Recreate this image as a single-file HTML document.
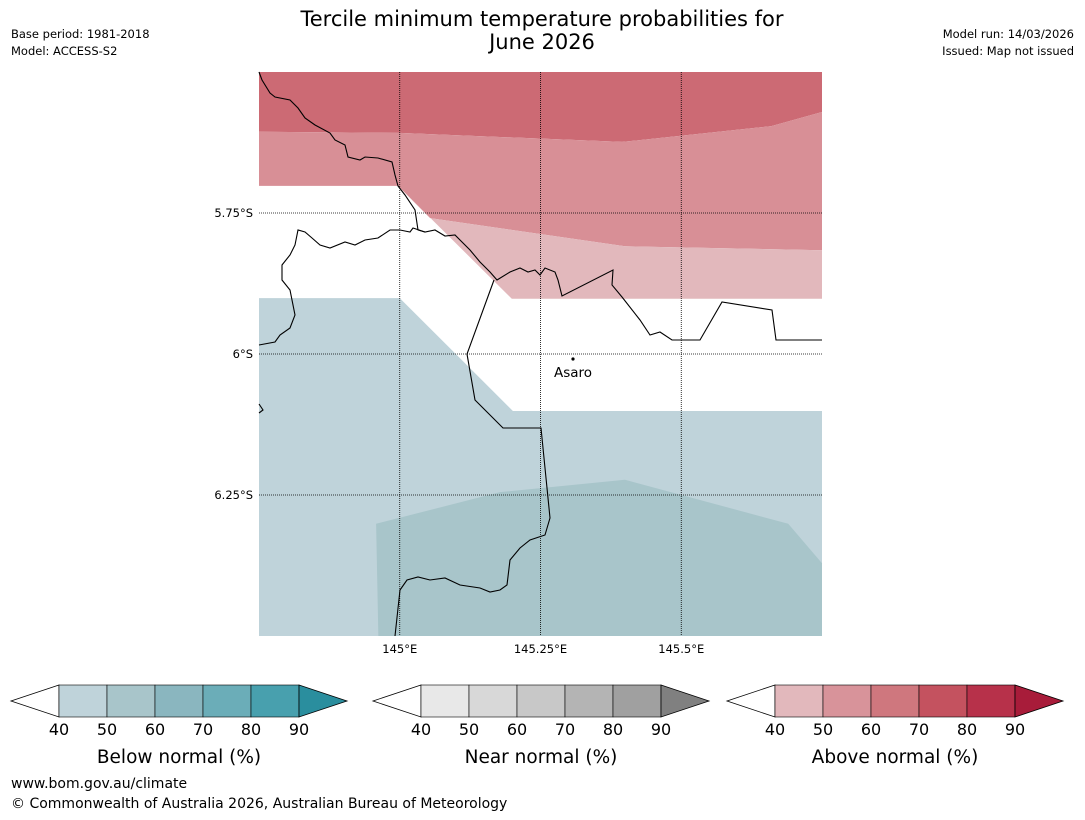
<!DOCTYPE html>
<html><head><meta charset="utf-8"><style>
body{margin:0;background:#fff;font-family:"DejaVu Sans",sans-serif;}
</style></head><body>
<svg id="s" width="1085" height="816" xmlns="http://www.w3.org/2000/svg" font-family="DejaVu Sans, sans-serif">
<rect width="1085" height="816" fill="#fff"/>
<text x="542" y="26" font-size="21" text-anchor="middle">Tercile minimum temperature probabilities for</text>
<text x="542" y="49" font-size="21" text-anchor="middle">June 2026</text>
<text x="11" y="38" font-size="11.5">Base period: 1981-2018</text>
<text x="11" y="55" font-size="11.5">Model: ACCESS-S2</text>
<text x="1074" y="38" font-size="11.5" text-anchor="end">Model run: 14/03/2026</text>
<text x="1074" y="55" font-size="11.5" text-anchor="end">Issued: Map not issued</text>
<g id="map"></g>
<g id="bars"></g>
<text x="11" y="788" font-size="14">www.bom.gov.au/climate</text>
<text x="11" y="808" font-size="14">© Commonwealth of Australia 2026, Australian Bureau of Meteorology</text>
</svg>
<script>
const lonTicks=[145,145.25,145.5];
const latTicks=[5.75,6,6.25];
const lonTickLabels=["145°E","145.25°E","145.5°E"];
const latTickLabels=["5.75°S","6°S","6.25°S"];
const darkRed=[[144.75,5.5],[145.75,5.5],[145.75,5.571],[145.66,5.596],[145.395,5.624],[145.0,5.608],[144.75,5.606]];
const medRed=[[144.75,5.606],[145.0,5.608],[145.395,5.624],[145.66,5.596],[145.75,5.571],[145.75,5.816],[145.4,5.809],[145.054,5.759],[144.997,5.702],[144.75,5.702]];
const lightRed=[[144.997,5.702],[145.054,5.759],[145.4,5.809],[145.75,5.816],[145.75,5.902],[145.199,5.902]];
const lightBlue=[[144.75,5.901],[145.0,5.901],[145.201,6.101],[145.75,6.101],[145.75,6.5],[144.75,6.5]];
const darkBlue=[[144.958,6.301],[145.178,6.245],[145.4,6.223],[145.69,6.301],[145.75,6.371],[145.75,6.5],[144.962,6.5]];
const coast=[[259,72],[262,80],[270,93],[275,97],[290,100],[298,108],[305,118],[315,125],[330,133],[335,140],[345,145],[348,157],[360,160],[365,157],[378,158],[392,162],[395,175],[398,186],[405,195],[415,210],[418,230],[425,232],[435,230],[445,236],[455,235],[460,240],[470,250],[480,262],[490,272],[497,280],[510,272],[520,268],[528,272],[535,270],[540,275],[545,268],[555,272],[558,280],[562,296],[613,270],[612,285],[622,297],[640,320],[650,335],[660,332],[672,340],[700,340],[722,302],[772,310],[776,340],[822,340]];
const coast2=[[259,345],[275,342],[280,335],[290,328],[295,315],[292,300],[290,290],[282,280],[282,265],[290,255],[295,245],[298,230],[305,232],[312,238],[320,245],[330,248],[345,242],[355,245],[365,240],[378,238],[390,230],[400,230],[410,232],[413,228],[425,232]];
const border=[[494,280],[467,354],[475,400],[503,428],[541,428],[550,518],[545,535],[530,540],[520,548],[510,560],[507,585],[500,590],[490,592],[480,588],[460,585],[445,578],[430,580],[418,577],[407,580],[400,590],[395,636]];
const coast3=[[259,404],[263,410],[259,413]];
const X=l=>259+(l-144.75)*563,Y=l=>72+(l-5.5)*564;
const NS='http://www.w3.org/2000/svg';
const map=document.getElementById('map');
function mk(t,a,p){const e=document.createElementNS(NS,t);for(const k in a)e.setAttribute(k,a[k]);(p||map).appendChild(e);return e;}
function poly(pts,fill,name){const e=mk('polygon',{points:pts.map(p=>X(p[0])+','+Y(p[1])).join(' '),fill:fill});

}
poly(darkRed,'#cc6a74','above-70-region');poly(medRed,'#d88f96','above-60-region');poly(lightRed,'#e2b8bc','above-50-region');
poly(lightBlue,'#bfd3da','below-40-region');poly(darkBlue,'#a8c5ca','below-50-region');
function line(pts,name){const e=mk('polyline',{points:pts.map(p=>p[0]+','+p[1]).join(' '),fill:'none',stroke:'#000','stroke-width':1.1});

}
line(coast,'coastline');line(coast2,'coastline-west');line(border,'province-border');line(coast3,'coastline-fragment');
lonTicks.forEach((v,i)=>{const e=mk('line',{x1:X(v),x2:X(v),y1:72,y2:636,stroke:'#000','stroke-width':0.8,'stroke-dasharray':'1,1'});


const t=mk('text',{x:X(v),y:653,'font-size':11.5,'text-anchor':'middle'});t.textContent=lonTickLabels[i];

});
latTicks.forEach((v,i)=>{const e=mk('line',{x1:259,x2:822,y1:Y(v),y2:Y(v),stroke:'#000','stroke-width':0.8,'stroke-dasharray':'1,1'});


const t=mk('text',{x:253,y:Y(v)+4,'font-size':11.5,'text-anchor':'end'});t.textContent=latTickLabels[i];

});
const c=mk('circle',{cx:573,cy:359,r:1.6,fill:'#000'});


const at=mk('text',{x:573,y:377,'font-size':13.5,'text-anchor':'middle'});at.textContent='Asaro';


const barLevels=[40,50,60,70,80,90];
const barDefs=[{x:59,title:'Below normal (%)',cols:['#bfd3da','#a8c5ca','#8ab6bf','#6badb8','#48a0ae'],arrow:'#2a8e9e'},
{x:421,title:'Near normal (%)',cols:['#e8e8e8','#d8d8d8','#c8c8c8','#b4b4b4','#a0a0a0'],arrow:'#808080'},
{x:775,title:'Above normal (%)',cols:['#e2b8bc','#d8939a','#cf777e','#c4525f','#b7314a'],arrow:'#a81c3a'}];
const bars=document.getElementById('bars');
barDefs.forEach(b=>{const y0=685,y1=717,w=48;
const l=mk('polygon',{points:`${b.x},${y0} ${b.x-48},${(y0+y1)/2} ${b.x},${y1}`,fill:'#fff',stroke:'#000','stroke-width':0.8},bars);


b.cols.forEach((col,i)=>{const r=mk('rect',{x:b.x+i*w,y:y0,width:w,height:y1-y0,fill:col,stroke:'#000','stroke-width':0.6},bars);

});
const xe=b.x+5*w;
const a=mk('polygon',{points:`${xe},${y0} ${xe+48},${(y0+y1)/2} ${xe},${y1}`,fill:b.arrow,stroke:'#000','stroke-width':0.8},bars);


barLevels.forEach((v,i)=>{const t=mk('text',{x:b.x+i*w,y:735,'font-size':16,'text-anchor':'middle'},bars);t.textContent=v;

});
const tt=mk('text',{x:b.x+120,y:763,'font-size':18.5,'text-anchor':'middle'},bars);tt.textContent=b.title;

});
</script>
</body></html>
